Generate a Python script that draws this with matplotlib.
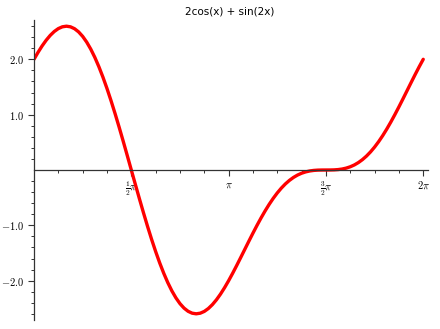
import numpy as np
import matplotlib
matplotlib.use("Agg")
import matplotlib.pyplot as plt
from matplotlib.ticker import FixedLocator

plt.rcParams['mathtext.fontset'] = 'cm'

# sample points of the curve (x step pi/48)
x_vals = np.linspace(0, 2 * np.pi, 97)
y_vals = [2.0, 2.1262, 2.2417, 2.3443, 2.4319, 2.5026, 2.5549, 2.5871, 2.5981,
          2.5868, 2.5526, 2.4951, 2.4142, 2.3101, 2.1835, 2.0350, 1.8660,
          1.6779, 1.4725, 1.2516, 1.0176, 0.7729, 0.5199, 0.2613, 0.0,
          -0.2613, -0.5199, -0.7729, -1.0176, -1.2516, -1.4725, -1.6779, -1.8660,
          -2.0350, -2.1835, -2.3101, -2.4142, -2.4951, -2.5526, -2.5868, -2.5981,
          -2.5871, -2.5549, -2.5026, -2.4319, -2.3443, -2.2417, -2.1262, -2.0,
          -1.8652, -1.7241, -1.5789, -1.4319, -1.2851, -1.1407, -1.0004, -0.8660,
          -0.7391, -0.6208, -0.5122, -0.4142, -0.3272, -0.2516, -0.1873, -0.1340,
          -0.0912, -0.0583, -0.0341, -0.0176, -0.0075, -0.0022, -0.0003, 0.0,
          0.0003, 0.0022, 0.0075, 0.0176, 0.0341, 0.0583, 0.0912, 0.1340,
          0.1873, 0.2516, 0.3272, 0.4142, 0.5122, 0.6208, 0.7391, 0.8660,
          1.0004, 1.1407, 1.2851, 1.4319, 1.5789, 1.7241, 1.8652, 2.0]

x_ticks = [np.pi / 2, np.pi, 3 * np.pi / 2, 2 * np.pi]
x_labels = [r'$\frac{1}{2}\pi$', r'$\pi$', r'$\frac{3}{2}\pi$', r'$2\pi$']
y_ticks = [-2.0, -1.0, 1.0, 2.0]
y_labels = [r'$-2.0$', r'$-1.0$', r'$1.0$', r'$2.0$']

fig = plt.figure(figsize=(4.4, 3.29), dpi=100)
ax = fig.add_axes([34 / 440, 9 / 329, 394 / 440, 300 / 329])

ax.plot(x_vals, y_vals, color='red', linewidth=2.4,
        solid_capstyle='round', solid_joinstyle='round')

ax.set_xlim(0, 6.36)
ax.set_ylim(-2.71, 2.71)

for s in ['top', 'right']:
    ax.spines[s].set_visible(False)
ax.spines['left'].set_position(('data', 0))
ax.spines['bottom'].set_position(('data', 0))
for s in ['left', 'bottom']:
    ax.spines[s].set_color('#333333')
    ax.spines[s].set_linewidth(0.9)

ax.set_xticks(x_ticks)
ax.set_xticklabels(x_labels)
ax.set_yticks(y_ticks)
ax.set_yticklabels(y_labels)
ax.xaxis.set_minor_locator(FixedLocator([k * np.pi / 8 for k in range(1, 17)]))
ax.yaxis.set_minor_locator(FixedLocator([k * 0.2 for k in range(-13, 14) if k != 0]))

ax.tick_params(which='major', length=4, width=0.8, color='#333333', labelsize=7.5, pad=3)
ax.tick_params(which='minor', length=2.5, width=0.7, color='#333333')
ax.tick_params(axis='x', direction='out')
ax.tick_params(axis='y', direction='out')

fig.text(0.523, 1 - 12 / 329, '2cos(x) + sin(2x)', ha='center', va='center', fontsize=7.5)

fig.savefig('out.png', dpi=100)
